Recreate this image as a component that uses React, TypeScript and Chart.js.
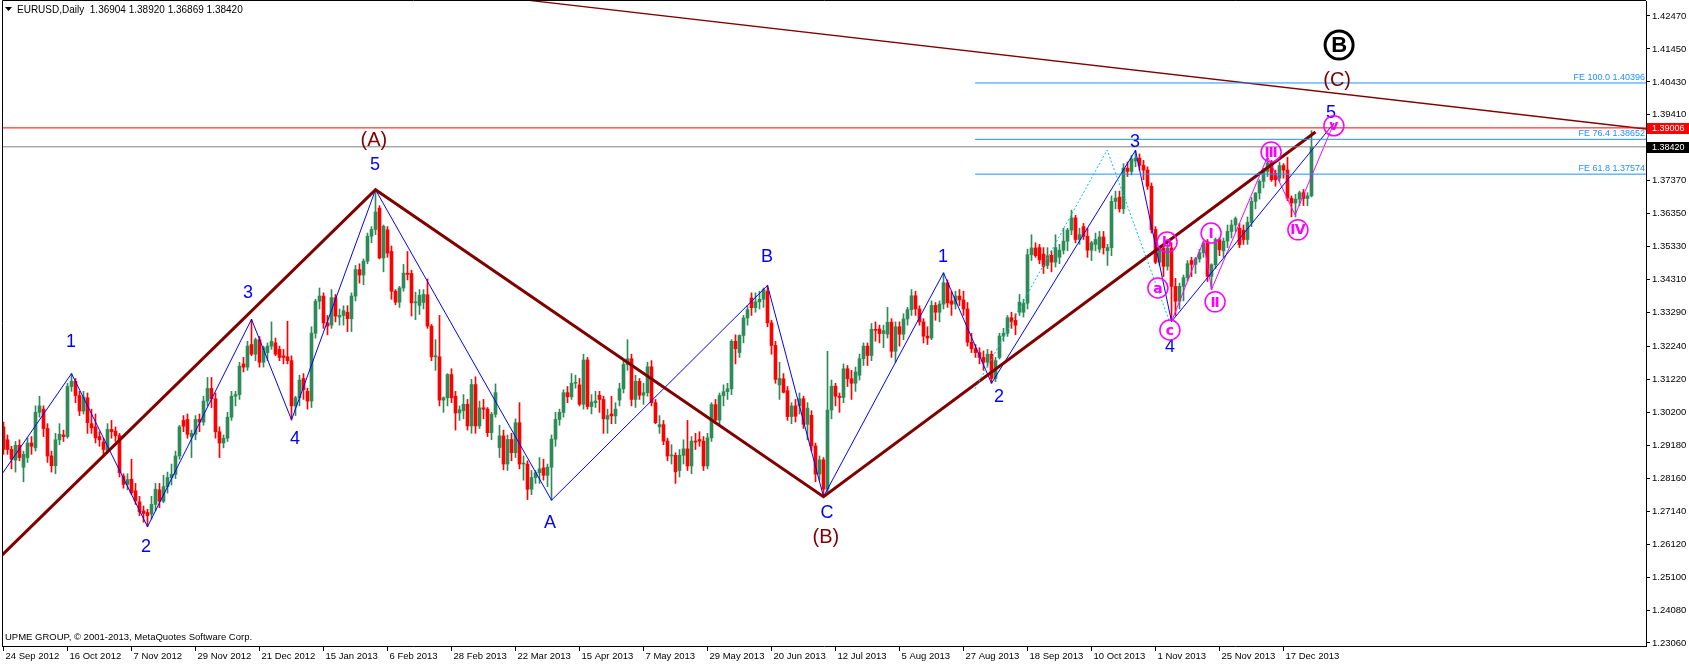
import React, { useEffect, useRef } from "react";
import { Chart, registerables } from "chart.js";

Chart.register(...registerables);

const FONT = "'Liberation Sans', Arial, sans-serif";
const GREEN = "#2e8b57";
const RED = "#ff0000";
const BLUE = "#0000ff";
const MAROON = "#800000";
const MAGENTA = "#ff00ff";
const FE_COLOR = "#1e90ff";
const CYAN = "#00c8d0";

// ---- axis ticks ----
const dateTickBars = [0, 16, 32, 48, 64, 80, 96, 112, 128, 144, 160, 176, 192, 208, 224, 240, 256, 272, 288, 304, 320];
const dateTickLabels = ["24 Sep 2012", "16 Oct 2012", "7 Nov 2012", "29 Nov 2012", "21 Dec 2012", "15 Jan 2013", "6 Feb 2013", "28 Feb 2013", "22 Mar 2013", "15 Apr 2013", "7 May 2013", "29 May 2013", "20 Jun 2013", "12 Jul 2013", "5 Aug 2013", "27 Aug 2013", "18 Sep 2013", "10 Oct 2013", "1 Nov 2013", "25 Nov 2013", "17 Dec 2013"];
const priceTickLabels = ["1.23060", "1.24080", "1.25100", "1.26120", "1.27140", "1.28160", "1.29180", "1.30200", "1.31220", "1.32240", "1.33290", "1.34310", "1.35330", "1.36350", "1.37370", "1.38390", "1.39410", "1.40430", "1.41450", "1.42470"];

// ---- EURUSD daily OHLC (24 Sep 2012 .. 27 Dec 2013) ----
const opens = [
  1.2975, 1.2935, 1.2905, 1.2872, 1.2918, 1.2850, 1.2880, 1.2925, 1.2910, 1.3020,
  1.3030, 1.2970, 1.2885, 1.2855, 1.2935, 1.2950, 1.2945, 1.3100, 1.3116, 1.3072,
  1.3024, 1.3065, 1.2985, 1.2975, 1.2945, 1.2928, 1.2900, 1.2967, 1.2962, 1.2948,
  1.2823, 1.2797, 1.2813, 1.2777, 1.2743, 1.2715, 1.2710, 1.2705, 1.2735, 1.2780,
  1.2745, 1.2790, 1.2818, 1.2828, 1.2885, 1.2995, 1.2998, 1.2945, 1.2952, 1.2998,
  1.2990, 1.3055, 1.3094, 1.3062, 1.2960, 1.2925, 1.2940, 1.3005, 1.3070, 1.3075,
  1.3170, 1.3160, 1.3230, 1.3200, 1.3245, 1.3175, 1.3205, 1.3225, 1.3235, 1.3215,
  1.3195, 1.3192, 1.3180, 1.3040, 1.3065, 1.3125, 1.3085, 1.3055, 1.3265, 1.3364,
  1.3380, 1.3297, 1.3290, 1.3375, 1.3315, 1.3320, 1.3330, 1.3310, 1.3380, 1.3462,
  1.3445, 1.3488, 1.3565, 1.3586, 1.3652, 1.3498, 1.3585, 1.3518, 1.3395, 1.3361,
  1.3405, 1.3451, 1.3450, 1.3359, 1.3351, 1.3360, 1.3384, 1.3287, 1.3192, 1.3192,
  1.3058, 1.3065, 1.3137, 1.3070, 1.3018, 1.3025, 1.3045, 1.2978, 1.3106, 1.2978,
  1.3034, 1.3030, 1.2957, 1.3014, 1.2911, 1.2947, 1.2860, 1.2936, 1.2895, 1.2988,
  1.2860, 1.2860, 1.2782, 1.2818, 1.2833, 1.2848, 1.2825, 1.2850, 1.2937, 1.2998,
  1.3020, 1.3081, 1.3068, 1.3110, 1.3105, 1.3045, 1.3182, 1.3038, 1.3050, 1.3073,
  1.3060, 1.2999, 1.3015, 1.3009, 1.3058, 1.3093, 1.3168, 1.3186, 1.3060, 1.3116,
  1.3073, 1.3081, 1.3161, 1.3050, 1.2975, 1.2982, 1.2931, 1.2885, 1.2887, 1.2840,
  1.2887, 1.2907, 1.2854, 1.2931, 1.2936, 1.2931, 1.2854, 1.2941, 1.3044, 1.2996,
  1.3072, 1.3084, 1.3093, 1.3240, 1.3205, 1.3258, 1.3312, 1.3374, 1.3344, 1.3362,
  1.3370, 1.3395, 1.3297, 1.3227, 1.3105, 1.3124, 1.3087, 1.3007, 1.3040, 1.3040,
  1.3062, 1.2983, 1.3011, 1.2916, 1.2829, 1.2873, 1.2782, 1.3027, 1.3101, 1.3070,
  1.3066, 1.3155, 1.3124, 1.3110, 1.3135, 1.3186, 1.3225, 1.3196, 1.3277, 1.3278,
  1.3264, 1.3262, 1.3299, 1.3209, 1.3285, 1.3262, 1.3309, 1.3338, 1.3381, 1.3340,
  1.3300, 1.3256, 1.3250, 1.3351, 1.3330, 1.3355, 1.3421, 1.3365, 1.3355, 1.3380,
  1.3368, 1.3340, 1.3237, 1.3217, 1.3205, 1.3190, 1.3175, 1.3200, 1.3125, 1.3190,
  1.3256, 1.3265, 1.3313, 1.3305, 1.3330, 1.3330, 1.3358, 1.3508, 1.3529, 1.3530,
  1.3510, 1.3475, 1.3506, 1.3485, 1.3500, 1.3522, 1.3550, 1.3584, 1.3622, 1.3555,
  1.3595, 1.3565, 1.3522, 1.3540, 1.3525, 1.3563, 1.3520, 1.3530, 1.3673, 1.3686,
  1.3650, 1.3776, 1.3766, 1.3798, 1.3807, 1.3785, 1.3770, 1.3720, 1.3586, 1.3485,
  1.3529, 1.3472, 1.3529, 1.3410, 1.3364, 1.3410, 1.3437, 1.3490, 1.3478, 1.3495,
  1.3514, 1.3548, 1.3441, 1.3477, 1.3555, 1.3520, 1.3550, 1.3580, 1.3600, 1.3590,
  1.3584, 1.3555, 1.3608, 1.3673, 1.3699, 1.3735, 1.3766, 1.3792, 1.3760, 1.3745,
  1.3784, 1.3770, 1.3683, 1.3668, 1.3680, 1.3700, 1.3682, 1.36904,
];
const highs = [
  1.2990, 1.2950, 1.2915, 1.2930, 1.2935, 1.2900, 1.2940, 1.2945, 1.3040, 1.3070,
  1.3040, 1.2985, 1.2900, 1.2955, 1.2985, 1.2965, 1.3110, 1.3140, 1.3125, 1.3085,
  1.3085, 1.3080, 1.3030, 1.3015, 1.2960, 1.2940, 1.2985, 1.2995, 1.2975, 1.2955,
  1.2830, 1.2830, 1.2875, 1.2800, 1.2760, 1.2730, 1.2720, 1.2760, 1.2800, 1.2800,
  1.2825, 1.2835, 1.2860, 1.2900, 1.2980, 1.3010, 1.3015, 1.2965, 1.3010, 1.3015,
  1.3070, 1.3128, 1.3128, 1.3080, 1.2975, 1.2950, 1.3020, 1.3085, 1.3085, 1.3175,
  1.3190, 1.3240, 1.3308, 1.3250, 1.3255, 1.3225, 1.3235, 1.3300, 1.3250, 1.3225,
  1.3215, 1.3302, 1.3195, 1.3070, 1.3135, 1.3140, 1.3095, 1.3285, 1.3370, 1.3405,
  1.3390, 1.3320, 1.3400, 1.3385, 1.3340, 1.3350, 1.3350, 1.3390, 1.3475, 1.3480,
  1.3495, 1.3575, 1.3595, 1.3710, 1.3660, 1.3600, 1.3595, 1.3535, 1.3400, 1.3410,
  1.3478, 1.3518, 1.3460, 1.3392, 1.3400, 1.3400, 1.3433, 1.3292, 1.3245, 1.3320,
  1.3068, 1.3140, 1.3155, 1.3085, 1.3040, 1.3075, 1.3060, 1.3122, 1.3130, 1.3055,
  1.3060, 1.3035, 1.3020, 1.3108, 1.2980, 1.2965, 1.2950, 1.2955, 1.3000, 1.3050,
  1.2885, 1.2870, 1.2840, 1.2840, 1.2880, 1.2875, 1.2860, 1.2950, 1.3020, 1.3030,
  1.3090, 1.3100, 1.3140, 1.3135, 1.3125, 1.3200, 1.3190, 1.3075, 1.3085, 1.3085,
  1.3070, 1.3030, 1.3070, 1.3050, 1.3110, 1.3180, 1.3245, 1.3200, 1.3135, 1.3125,
  1.3110, 1.3175, 1.3180, 1.3060, 1.3010, 1.2995, 1.2940, 1.2920, 1.2895, 1.2905,
  1.2935, 1.2995, 1.2945, 1.2955, 1.2960, 1.2945, 1.2955, 1.3050, 1.3060, 1.3080,
  1.3105, 1.3110, 1.3245, 1.3260, 1.3260, 1.3320, 1.3350, 1.3390, 1.3390, 1.3395,
  1.3405, 1.3413, 1.3305, 1.3240, 1.3175, 1.3140, 1.3100, 1.3050, 1.3060, 1.3080,
  1.3070, 1.3050, 1.3025, 1.2925, 1.2885, 1.2880, 1.3209, 1.3120, 1.3110, 1.3080,
  1.3170, 1.3165, 1.3150, 1.3160, 1.3200, 1.3235, 1.3235, 1.3295, 1.3300, 1.3290,
  1.3290, 1.3345, 1.3310, 1.3300, 1.3300, 1.3325, 1.3345, 1.3400, 1.3395, 1.3350,
  1.3310, 1.3285, 1.3365, 1.3360, 1.3365, 1.3452, 1.3430, 1.3395, 1.3395, 1.3400,
  1.3395, 1.3360, 1.3265, 1.3230, 1.3220, 1.3210, 1.3215, 1.3210, 1.3190, 1.3265,
  1.3280, 1.3320, 1.3330, 1.3325, 1.3385, 1.3370, 1.3525, 1.3570, 1.3545, 1.3540,
  1.3530, 1.3530, 1.3520, 1.3570, 1.3540, 1.3590, 1.3590, 1.3646, 1.3630, 1.3590,
  1.3605, 1.3590, 1.3550, 1.3575, 1.3580, 1.3580, 1.3540, 1.3690, 1.3705, 1.3705,
  1.3790, 1.3795, 1.3815, 1.3831, 1.3820, 1.3800, 1.3780, 1.3730, 1.3595, 1.3535,
  1.3540, 1.3545, 1.3545, 1.3435, 1.3420, 1.3445, 1.3490, 1.3500, 1.3500, 1.3525,
  1.3550, 1.3555, 1.3480, 1.3560, 1.3560, 1.3560, 1.3600, 1.3615, 1.3625, 1.3605,
  1.3600, 1.3625, 1.3685, 1.3700, 1.3740, 1.3775, 1.3811, 1.3800, 1.3770, 1.3795,
  1.3790, 1.3810, 1.3690, 1.3695, 1.3705, 1.3710, 1.3700, 1.38920,
];
const lows = [
  1.2890, 1.2890, 1.2845, 1.2835, 1.2870, 1.2805, 1.2865, 1.2890, 1.2900, 1.3005,
  1.2945, 1.2865, 1.2835, 1.2830, 1.2920, 1.2930, 1.2940, 1.3085, 1.3050, 1.3010,
  1.3015, 1.2955, 1.2955, 1.2925, 1.2915, 1.2890, 1.2895, 1.2940, 1.2930, 1.2820,
  1.2785, 1.2780, 1.2765, 1.2735, 1.2700, 1.2680, 1.2666, 1.2690, 1.2715, 1.2725,
  1.2740, 1.2770, 1.2795, 1.2815, 1.2875, 1.2960, 1.2940, 1.2880, 1.2935, 1.2960,
  1.2980, 1.3040, 1.3035, 1.2940, 1.2880, 1.2910, 1.2930, 1.2995, 1.3040, 1.3060,
  1.3145, 1.3150, 1.3195, 1.3180, 1.3160, 1.3160, 1.3180, 1.3215, 1.3195, 1.3180,
  1.3170, 1.3170, 1.2996, 1.3010, 1.3040, 1.3060, 1.3030, 1.3035, 1.3250, 1.3340,
  1.3280, 1.3260, 1.3280, 1.3300, 1.3290, 1.3290, 1.3270, 1.3270, 1.3365, 1.3420,
  1.3415, 1.3480, 1.3545, 1.3570, 1.3495, 1.3455, 1.3500, 1.3370, 1.3353, 1.3345,
  1.3395, 1.3430, 1.3318, 1.3307, 1.3323, 1.3340, 1.3280, 1.3180, 1.3150, 1.3040,
  1.3020, 1.3040, 1.3050, 1.2965, 1.2995, 1.3000, 1.2965, 1.2955, 1.2955, 1.2970,
  1.3000, 1.2945, 1.2935, 1.3005, 1.2880, 1.2842, 1.2840, 1.2870, 1.2880, 1.2845,
  1.2810, 1.2750, 1.2765, 1.2800, 1.2800, 1.2810, 1.2790, 1.2748, 1.2915, 1.2980,
  1.3005, 1.3050, 1.3060, 1.3095, 1.3040, 1.3030, 1.3030, 1.3015, 1.3035, 1.3020,
  1.2955, 1.2955, 1.2985, 1.2985, 1.3040, 1.3080, 1.3150, 1.3040, 1.3035, 1.3060,
  1.3045, 1.3070, 1.3040, 1.2985, 1.2955, 1.2920, 1.2870, 1.2860, 1.2800, 1.2820,
  1.2860, 1.2840, 1.2830, 1.2905, 1.2915, 1.2840, 1.2845, 1.2930, 1.2985, 1.2985,
  1.3040, 1.3060, 1.3075, 1.3170, 1.3190, 1.3235, 1.3290, 1.3320, 1.3330, 1.3340,
  1.3345, 1.3285, 1.3200, 1.3110, 1.3060, 1.3080, 1.2995, 1.2985, 1.2990, 1.3015,
  1.2970, 1.2935, 1.2900, 1.2805, 1.2810, 1.2759, 1.2770, 1.3000, 1.3040, 1.3020,
  1.3050, 1.3100, 1.3060, 1.3085, 1.3120, 1.3165, 1.3165, 1.3180, 1.3240, 1.3235,
  1.3220, 1.3250, 1.3190, 1.3175, 1.3225, 1.3245, 1.3290, 1.3320, 1.3320, 1.3290,
  1.3235, 1.3230, 1.3245, 1.3305, 1.3300, 1.3340, 1.3345, 1.3320, 1.3340, 1.3350,
  1.3320, 1.3225, 1.3205, 1.3190, 1.3170, 1.3150, 1.3160, 1.3110, 1.3115, 1.3185,
  1.3240, 1.3255, 1.3280, 1.3260, 1.3320, 1.3315, 1.3340, 1.3490, 1.3500, 1.3480,
  1.3450, 1.3465, 1.3455, 1.3470, 1.3480, 1.3510, 1.3520, 1.3570, 1.3545, 1.3540,
  1.3555, 1.3500, 1.3490, 1.3520, 1.3515, 1.3510, 1.3475, 1.3505, 1.3650, 1.3640,
  1.3635, 1.3750, 1.3755, 1.3780, 1.3770, 1.3740, 1.3710, 1.3575, 1.3480, 1.3475,
  1.3440, 1.3460, 1.3301, 1.3320, 1.3340, 1.3365, 1.3425, 1.3440, 1.3450, 1.3485,
  1.3500, 1.3425, 1.3400, 1.3465, 1.3505, 1.3500, 1.3530, 1.3560, 1.3580, 1.3530,
  1.3540, 1.3540, 1.3595, 1.3650, 1.3680, 1.3715, 1.3750, 1.3735, 1.3720, 1.3735,
  1.3745, 1.3675, 1.3625, 1.3625, 1.3660, 1.3660, 1.3660, 1.36869,
];
const closes = [
  1.2905, 1.2905, 1.2875, 1.2918, 1.2880, 1.2890, 1.2925, 1.2915, 1.3020, 1.3040,
  1.2970, 1.2885, 1.2855, 1.2935, 1.2952, 1.2945, 1.3100, 1.3116, 1.3072, 1.3024,
  1.3068, 1.2988, 1.2972, 1.2941, 1.2935, 1.2905, 1.2967, 1.2960, 1.2948, 1.2833,
  1.2797, 1.2812, 1.2771, 1.2746, 1.2712, 1.2707, 1.2700, 1.2735, 1.2782, 1.2745,
  1.2790, 1.2818, 1.2828, 1.2885, 1.2975, 1.2977, 1.2952, 1.2955, 1.2998, 1.2990,
  1.3055, 1.3094, 1.3062, 1.2960, 1.2925, 1.2940, 1.3005, 1.3070, 1.3075, 1.3163,
  1.3160, 1.3225, 1.3200, 1.3245, 1.3175, 1.3220, 1.3225, 1.3240, 1.3200, 1.3190,
  1.3190, 1.3180, 1.3040, 1.3065, 1.3120, 1.3090, 1.3055, 1.3265, 1.3364, 1.3380,
  1.3297, 1.3287, 1.3375, 1.3318, 1.3320, 1.3335, 1.3310, 1.3380, 1.3462, 1.3445,
  1.3488, 1.3565, 1.3586, 1.3640, 1.3498, 1.3596, 1.3513, 1.3395, 1.3361, 1.3405,
  1.3451, 1.3447, 1.3359, 1.3360, 1.3382, 1.3385, 1.3287, 1.3192, 1.3195, 1.3058,
  1.3065, 1.3137, 1.3065, 1.3018, 1.3028, 1.3045, 1.2978, 1.3106, 1.2978, 1.3034,
  1.3030, 1.2957, 1.3014, 1.3081, 1.2947, 1.2860, 1.2936, 1.2895, 1.2988, 1.2860,
  1.2863, 1.2782, 1.2818, 1.2833, 1.2845, 1.2825, 1.2850, 1.2937, 1.2998, 1.3020,
  1.3081, 1.3068, 1.3110, 1.3112, 1.3045, 1.3182, 1.3038, 1.3052, 1.3055, 1.3060,
  1.3000, 1.3010, 1.3009, 1.3030, 1.3093, 1.3168, 1.3186, 1.3060, 1.3116, 1.3073,
  1.3081, 1.3161, 1.3050, 1.2988, 1.2982, 1.2931, 1.2885, 1.2887, 1.2836, 1.2887,
  1.2907, 1.2854, 1.2931, 1.2928, 1.2931, 1.2854, 1.2941, 1.3044, 1.2996, 1.3072,
  1.3084, 1.3093, 1.3240, 1.3217, 1.3258, 1.3312, 1.3338, 1.3344, 1.3362, 1.3370,
  1.3400, 1.3297, 1.3227, 1.3122, 1.3125, 1.3082, 1.3007, 1.3040, 1.3008, 1.3062,
  1.2983, 1.3033, 1.2916, 1.2829, 1.2873, 1.2782, 1.3027, 1.3101, 1.3070, 1.3066,
  1.3155, 1.3124, 1.3110, 1.3145, 1.3186, 1.3225, 1.3196, 1.3277, 1.3274, 1.3264,
  1.3273, 1.3299, 1.3209, 1.3285, 1.3262, 1.3309, 1.3338, 1.3381, 1.3340, 1.3300,
  1.3256, 1.3250, 1.3351, 1.3330, 1.3355, 1.3421, 1.3359, 1.3355, 1.3380, 1.3368,
  1.3340, 1.3237, 1.3217, 1.3205, 1.3190, 1.3175, 1.3200, 1.3125, 1.3180, 1.3256,
  1.3265, 1.3313, 1.3300, 1.3290, 1.3361, 1.3358, 1.3508, 1.3529, 1.3505, 1.3492,
  1.3472, 1.3505, 1.3485, 1.3530, 1.3522, 1.3550, 1.3584, 1.3622, 1.3555, 1.3570,
  1.3565, 1.3522, 1.3545, 1.3555, 1.3563, 1.3530, 1.3530, 1.3673, 1.3683, 1.3650,
  1.3776, 1.3766, 1.3804, 1.3807, 1.3785, 1.3770, 1.3720, 1.3586, 1.3485, 1.3529,
  1.3472, 1.3529, 1.3410, 1.3364, 1.3410, 1.3437, 1.3480, 1.3478, 1.3495, 1.3514,
  1.3544, 1.3441, 1.3477, 1.3555, 1.3523, 1.3550, 1.3580, 1.3600, 1.3620, 1.3539,
  1.3555, 1.3608, 1.3673, 1.3699, 1.3735, 1.3766, 1.3792, 1.3740, 1.3740, 1.3784,
  1.3770, 1.3683, 1.3668, 1.3680, 1.3700, 1.3682, 1.3690, 1.38420,
];

// ---- drawn objects (bar index, price) ----
const cycleXs = [-0.375, 93, 205, 328];
const cycleYs = [1.2578, 1.3709, 1.2759, 1.3888];
const topTrendXs = [124, 410.625];
const topTrendYs = [1.4306, 1.38972];
const waveXs = [-0.375, 17, 36, 62, 72, 93, 137, 191, 205, 235, 247, 283, 292, 332.6];
const waveYs = [1.2829, 1.3140, 1.2666, 1.3308, 1.2997, 1.3709, 1.2748, 1.3413, 1.2759, 1.3452, 1.3110, 1.3831, 1.3301, 1.3915];
const subWaveXs = [292, 300, 302, 316, 322.9, 332.6];
const subWaveYs = [1.3301, 1.3550, 1.3400, 1.3811, 1.3631, 1.3915];
const feAnchorXs = [242.9, 275.9, 291.5];
const feAnchorYs = [1.3093, 1.3832, 1.3301];
const feNames = ["FE 100.0", "FE 76.4", "FE 61.8"];
const feLevels = [1.40396, 1.38652, 1.37574];
const feStartBar = 242.9;
const resistanceLevel = 1.39006;
const bidLevel = 1.3842;

const waveLabelTexts = ["1", "2", "3", "4", "5", "A", "B", "C", "1", "2", "3", "4", "5"];
const waveLabelXs = [16.9, 35.6, 61.1, 72.9, 92.9, 136.6, 190.9, 205.9, 234.9, 248.9, 282.9, 291.6, 331.9];
const waveLabelYs = [1.3238, 1.2603, 1.3389, 1.2938, 1.3786, 1.2678, 1.3501, 1.2708, 1.3501, 1.3068, 1.3857, 1.3222, 1.3947];
const degreeLabelTexts = ["(A)", "(B)", "(C)"];
const degreeLabelXs = [92.6, 205.6, 333.4];
const degreeLabelYs = [1.3863, 1.2634, 1.4046];
const circleLabelTexts = ["a", "b", "c", "Ⅰ", "Ⅱ", "Ⅲ", "Ⅳ", "v"];
const circleLabelXs = [288.6, 290.9, 291.6, 301.9, 302.9, 316.9, 323.6, 332.6];
const circleLabelYs = [1.3405, 1.3547, 1.3275, 1.3575, 1.3362, 1.3826, 1.3585, 1.3907];
const bigLabelText = "B";
const bigLabelX = 333.9;
const bigLabelY = 1.4157;

const headerText = "EURUSD,Daily  1.36904 1.38920 1.36869 1.38420";
const copyrightText = "UPME GROUP, © 2001-2013, MetaQuotes Software Corp.";

function lineSet(xs: number[], ys: number[], color: string, width: number, dash: number[] = []) {
  return {
    type: "line" as const,
    data: xs.map((x, k) => ({ x, y: ys[k] })),
    borderColor: color,
    borderWidth: width,
    borderDash: dash,
    pointRadius: 0,
    tension: 0,
    fill: false,
    clip: 0,
    order: 0,
  };
}

const overlayPlugin = {
  id: "mtOverlay",
  afterDatasetsDraw(chart: any) {
    const { ctx, chartArea: a, scales } = chart;
    const px = (v: number) => scales.x.getPixelForValue(v);
    const py = (v: number) => scales.y.getPixelForValue(v);
    ctx.save();
    ctx.beginPath();
    ctx.rect(a.left, a.top, a.right - a.left, a.bottom - a.top);
    ctx.clip();

    // FE labels
    ctx.font = `9px ${FONT}`;
    ctx.fillStyle = FE_COLOR;
    ctx.textAlign = "right";
    ctx.textBaseline = "bottom";
    feLevels.forEach((v, k) => ctx.fillText(`${feNames[k]} ${v.toFixed(5)}`, a.right - 1, py(v) - 1));

    ctx.textAlign = "center";
    ctx.textBaseline = "middle";
    // wave labels
    ctx.font = `18px ${FONT}`;
    ctx.fillStyle = BLUE;
    waveLabelTexts.forEach((t, k) => ctx.fillText(t, px(waveLabelXs[k]), py(waveLabelYs[k])));
    // degree labels
    ctx.font = `20px ${FONT}`;
    ctx.fillStyle = MAROON;
    degreeLabelTexts.forEach((t, k) => ctx.fillText(t, px(degreeLabelXs[k]), py(degreeLabelYs[k])));
    // circled sub-wave labels
    circleLabelTexts.forEach((t, k) => {
      const cx = px(circleLabelXs[k]);
      const cy = py(circleLabelYs[k]);
      ctx.beginPath();
      ctx.arc(cx, cy, 10, 0, Math.PI * 2);
      ctx.strokeStyle = MAGENTA;
      ctx.lineWidth = 1.5;
      ctx.stroke();
      ctx.fillStyle = MAGENTA;
      ctx.font = `bold 14px 'DejaVu Sans', ${FONT}`;
      ctx.fillText(t, cx, cy + 1);
    });
    // big circled B
    {
      const cx = px(bigLabelX);
      const cy = py(bigLabelY);
      ctx.beginPath();
      ctx.arc(cx, cy, 14, 0, Math.PI * 2);
      ctx.strokeStyle = "#000";
      ctx.lineWidth = 3;
      ctx.stroke();
      ctx.fillStyle = "#000";
      ctx.font = `bold 22px ${FONT}`;
      ctx.fillText(bigLabelText, cx, cy + 1);
    }

    // header
    ctx.fillStyle = "#000";
    ctx.beginPath();
    ctx.moveTo(a.left + 3, a.top + 6);
    ctx.lineTo(a.left + 10, a.top + 6);
    ctx.lineTo(a.left + 6.5, a.top + 10);
    ctx.closePath();
    ctx.fill();
    ctx.font = `10px ${FONT}`;
    ctx.textAlign = "left";
    ctx.textBaseline = "middle";
    ctx.fillText(headerText, a.left + 15, a.top + 9);
    // copyright
    ctx.font = `9.5px ${FONT}`;
    ctx.fillText(copyrightText, a.left + 3, a.bottom - 9);
    ctx.restore();

    // frame
    ctx.save();
    ctx.strokeStyle = "#000";
    ctx.lineWidth = 1;
    ctx.beginPath();
    ctx.moveTo(a.left + 0.5, a.bottom);
    ctx.lineTo(a.left + 0.5, a.top - 0.5);
    ctx.lineTo(a.right, a.top - 0.5);
    ctx.stroke();
    // price tags
    const tags = [
      { v: resistanceLevel, bg: RED },
      { v: bidLevel, bg: "#000" },
    ];
    ctx.font = `9px ${FONT}`;
    ctx.textAlign = "left";
    ctx.textBaseline = "middle";
    tags.forEach((t) => {
      const yy = Math.round(py(t.v));
      ctx.fillStyle = t.bg;
      ctx.fillRect(a.right + 1, yy - 5, chart.width - a.right - 1, 11);
      ctx.fillStyle = "#fff";
      ctx.fillText(t.v.toFixed(5), a.right + 6, yy + 0.5);
    });
    ctx.restore();
  },
};

export default function App() {
  const ref = useRef<HTMLCanvasElement>(null);
  useEffect(() => {
    const canvas = ref.current;
    if (!canvas) return;
    Chart.defaults.font.family = FONT;
    const colors = opens.map((o, i) => (closes[i] >= o ? GREEN : RED));
    const bodies = opens.map((o, i) => ({ x: i, y: [o, closes[i]] }));
    const wicks = lows.map((l, i) => ({ x: i, y: [l, highs[i]] }));
    const fullXs = [-0.375, 410.625];
    const feEndXs = [feStartBar, 410.625];

    const chart = new Chart(canvas, {
      type: "bar",
      data: {
        datasets: [
          { type: "bar", data: wicks as any, backgroundColor: colors, barThickness: 1, grouped: false, borderWidth: 0, order: 3, clip: 0 } as any,
          { type: "bar", data: bodies as any, backgroundColor: colors, barThickness: 3, grouped: false, borderWidth: 0, minBarLength: 1, order: 2, clip: 0 } as any,
          lineSet(fullXs, [resistanceLevel, resistanceLevel], RED, 1),
          lineSet(fullXs, [bidLevel, bidLevel], "#808080", 1),
          ...feLevels.map((v) => lineSet(feEndXs, [v, v], FE_COLOR, 1)),
          lineSet(feAnchorXs, feAnchorYs, CYAN, 1, [2, 2]),
          lineSet(topTrendXs, topTrendYs, MAROON, 1.3),
          lineSet(cycleXs, cycleYs, MAROON, 3),
          lineSet(waveXs, waveYs, BLUE, 1),
          lineSet(subWaveXs, subWaveYs, MAGENTA, 1),
        ] as any,
      },
      options: {
        animation: false,
        responsive: false,
        maintainAspectRatio: false,
        devicePixelRatio: 1,
        events: [],
        layout: { padding: { left: 2, top: 1, right: 0, bottom: 0 }, autoPadding: false } as any,
        plugins: { legend: { display: false }, tooltip: { enabled: false } },
        scales: {
          x: {
            type: "linear",
            min: -0.375,
            max: 410.625,
            offset: false,
            afterBuildTicks: (s: any) => {
              s.ticks = dateTickBars.map((v) => ({ value: v }));
            },
            afterFit: (s: any) => {
              s.height = 18;
              s.paddingLeft = 0;
              s.paddingRight = 0;
            },
            ticks: {
              autoSkip: false,
              maxRotation: 0,
              minRotation: 0,
              align: "start",
              labelOffset: 2,
              padding: 0,
              color: "#000",
              font: { family: FONT, size: 9.5 },
              callback: (_v: any, idx: number) => dateTickLabels[idx],
            },
            grid: { drawOnChartArea: false, offset: false, tickLength: 5, color: "#000" },
            border: { display: true, color: "#000", width: 1 },
          } as any,
          y: {
            type: "linear",
            position: "right",
            min: 1.22967,
            max: 1.42934,
            afterBuildTicks: (s: any) => {
              s.ticks = priceTickLabels.map((t) => ({ value: parseFloat(t) }));
            },
            afterFit: (s: any) => {
              s.width = 43;
              s.paddingTop = 0;
              s.paddingBottom = 0;
            },
            ticks: {
              autoSkip: false,
              padding: 2,
              color: "#000",
              font: { family: FONT, size: 9.5 },
              callback: (_v: any, idx: number) => priceTickLabels[idx],
            },
            grid: { drawOnChartArea: false, tickLength: 4, color: "#000" },
            border: { display: true, color: "#000", width: 1 },
          } as any,
        },
      },
      plugins: [overlayPlugin],
    });
    return () => chart.destroy();
  }, []);

  return (
    <div style={{ position: "absolute", left: 0, top: 0, width: 1689, height: 664, background: "#fff" }}>
      <canvas ref={ref} width={1689} height={664} style={{ display: "block" }} />
    </div>
  );
}
